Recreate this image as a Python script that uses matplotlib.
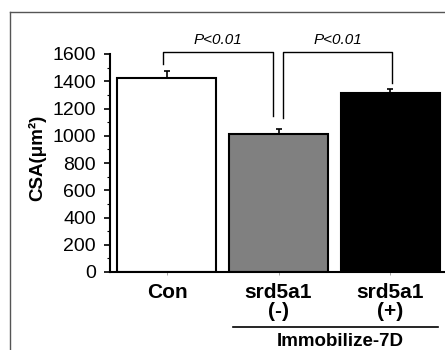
import matplotlib
matplotlib.use('Agg')
import matplotlib.pyplot as plt
from matplotlib.lines import Line2D
from matplotlib.ticker import MultipleLocator

plt.rcParams['font.family'] = ['Liberation Sans', 'DejaVu Sans']

# Datos
grupos = ['Con', 'srd5a1\n(-)', 'srd5a1\n(+)']
csa = [1422, 1013, 1311]
error = [50, 35, 32]
colores = ['white', '#808080', 'black']
p_texto = ['P<0.01', 'P<0.01']

fig = plt.figure(figsize=(4.45, 3.5), dpi=100)
ax = fig.add_axes([110 / 445, 78 / 350, 335 / 445, 218 / 350])

x = list(range(len(grupos)))
ax.bar(x, csa, width=0.888, color=colores, edgecolor='black', linewidth=1.5, zorder=2)
ax.errorbar(x, csa, yerr=[[0] * 3, error], fmt='none', ecolor='black',
            elinewidth=1.2, capsize=2.5, capthick=1.2, zorder=3)

ax.set_xlim(-0.511, 2.493)
ax.set_ylim(0, 1600)
ax.yaxis.set_major_locator(MultipleLocator(200))
ax.yaxis.set_minor_locator(MultipleLocator(100))
ax.tick_params(axis='y', which='major', direction='out', length=4, width=1.2,
               labelsize=14, pad=6)
ax.tick_params(axis='y', which='minor', direction='out', length=2.5, width=0.8)
ax.set_xticks(x)
ax.set_xticklabels(grupos, fontsize=15, fontweight='bold', linespacing=1.0)
ax.tick_params(axis='x', direction='out', length=2, width=0.6, color='#999999', pad=6)

for s in ['top', 'right']:
    ax.spines[s].set_visible(False)
ax.spines['left'].set_linewidth(1.5)
ax.spines['bottom'].set_linewidth(1.5)

# Corchetes de significancia
ax.plot([-0.04, -0.04, 0.95, 0.95], [1527, 1617, 1617, 1145], color='black',
        lw=1.0, clip_on=False)
ax.plot([1.04, 1.04, 2.02, 2.02], [1133, 1617, 1617, 1385], color='black',
        lw=1.0, clip_on=False)
ax.text(0.457, 1700, p_texto[0], fontsize=11, style='italic', ha='center', va='center')
ax.text(1.534, 1700, p_texto[1], fontsize=11, style='italic', ha='center', va='center')

# Linea de grupo inferior
trans = ax.get_xaxis_transform()
ax.add_line(Line2D([0.592, 2.43], [-0.252, -0.252], transform=trans, color='black',
                   lw=1.2, clip_on=False))
ax.text(1.55, -0.32, 'Immobilize-7D', transform=trans, fontsize=13.5,
        fontweight='bold', ha='center', va='center')

fig.text(37 / 445, 0.55, 'CSA(μm²)', rotation=90, fontsize=13.5, fontweight='bold',
         ha='center', va='center')

# Marco exterior
fig.add_artist(Line2D([10 / 445, 1.0], [1 - 12 / 350, 1 - 12 / 350], color='#555555', lw=1.0))
fig.add_artist(Line2D([10 / 445, 10 / 445], [0, 1 - 12 / 350], color='#555555', lw=1.0))

plt.savefig('out.png', dpi=100)
